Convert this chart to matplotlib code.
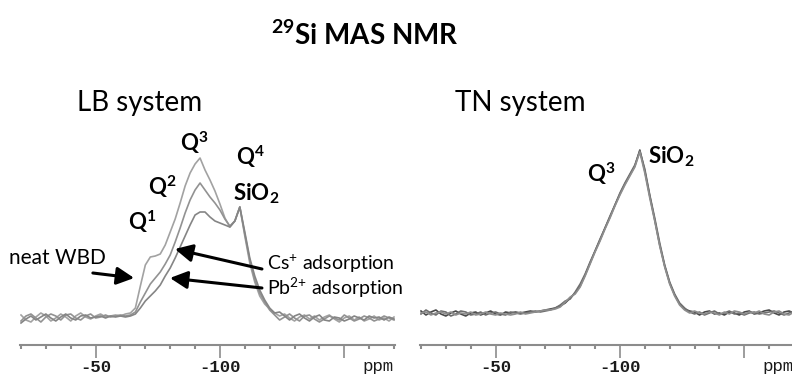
import numpy as np
import matplotlib
matplotlib.use("Agg")
import matplotlib.pyplot as plt
from matplotlib.ticker import MultipleLocator, FixedLocator

plt.rcParams["font.family"] = ["Lato", "DejaVu Sans"]
plt.rcParams["mathtext.fontset"] = "custom"
plt.rcParams["mathtext.rm"] = "Lato"
plt.rcParams["mathtext.bf"] = "Lato:bold"
plt.rcParams["mathtext.it"] = "Lato:italic"
plt.rcParams["axes.unicode_minus"] = False

# chemical shift grid (ppm), shared by all traces
shift = np.arange(-20, -172, -2)

# LB system: neat WBD, after Cs+ adsorption, after Pb2+ adsorption
lb_neat = [3, -2, -4, 1, 5, 2, -3, 0, 4, 1,
           -3, 2, 5, 1, -1, 2, 4, 1, 2, 3,
           2, 4, 5, 10, 32, 53, 61, 62, 64, 73,
           86, 99, 115, 132, 145, 154, 160, 148, 138, 127,
           114, 100, 91, 97, 111, 82, 55, 36, 22, 14,
           9, 5, 2, 4, 0, -3, 1, 3, -1, 2,
           -2, 1, 3, -1, -4, 0, 2, -2, 1, -3,
           -1, 2, -2, 0, -3, 1]
lb_cs = [-3, 2, 4, 0, -4, 1, 4, 2, -2, 3,
         4, 0, -2, 2, 4, 0, 1, 3, 1, 2,
         3, 2, 3, 6, 16, 25, 34, 40, 46, 54,
         63, 76, 90, 105, 118, 128, 135, 128, 121, 115,
         108, 99, 92, 97, 111, 84, 58, 38, 25, 16,
         8, 3, -2, 1, 4, 0, -3, 2, 3, -1,
         -4, -1, 2, 0, -2, 3, 0, -3, -1, 2,
         0, -3, -1, 2, 0, -2]
lb_pb = [-5, -1, 2, -2, 1, 4, 0, -3, 1, 4,
         0, -2, 2, 3, 0, 1, 2, 0, 2, 1,
         2, 1, 2, 4, 10, 17, 22, 27, 33, 42,
         50, 60, 71, 82, 93, 103, 106, 106, 101, 97,
         95, 93, 91, 97, 111, 86, 60, 42, 28, 18,
         10, 5, 6, 2, -2, 2, 4, 0, -3, 1,
         3, -2, -3, 1, 0, -3, -1, 2, 0, -2,
         2, 0, 1, -2, 1, -1]

# TN system: three nearly identical traces
tn_a = [2, -2, 1, 3, -1, -3, 0, 2, -1, -3,
        0, 1, -2, 0, 2, -1, -2, 1, 0, 1,
        0, 1, 2, 1, 2, 3, 4, 5, 7, 10,
        15, 20, 27, 38, 50, 62, 73, 85, 96, 108,
        119, 129, 138, 147, 163, 142, 117, 93, 68, 47,
        30, 18, 9, 4, 2, 1, -2, 1, 2, -1,
        0, -2, 1, 0, -2, 1, 2, -1, 0, 2,
        3, 0, -2, 1, 2, 0]
tn_b = [-1, 3, 0, -2, 2, 1, -3, -1, 2, 1,
        -2, -1, 1, -2, 0, 1, -1, -2, 1, 0,
        -1, 0, 1, 2, 1, 2, 3, 5, 8, 12,
        14, 21, 29, 39, 51, 62, 74, 85, 97, 108,
        120, 130, 139, 148, 162, 144, 118, 95, 70, 48,
        31, 19, 10, 5, 1, -1, 1, -2, 0, 2,
        -1, 0, 2, -1, 0, -2, 0, 1, -1, 0,
        1, 2, 0, -2, 0, 2]
tn_c = [0, 1, -2, 0, 1, -1, 1, -2, 0, -1,
        1, -2, -1, 1, -1, -2, 0, -1, -2, -1,
        1, -1, 0, 1, 2, 3, 3, 4, 6, 11,
        16, 19, 26, 37, 49, 61, 72, 84, 95, 107,
        118, 128, 137, 146, 161, 140, 115, 92, 67, 46,
        29, 17, 8, 3, 0, 2, 0, -1, 1, 0,
        -2, 1, -1, 2, 1, -1, 1, 0, 2, -1,
        -2, 1, 2, -1, -2, 1]

# major ticks; the last one carries the unit label instead of a number
major_ticks = [-50, -100, -150]
major_labels = ["-50", "-100", ""]

lb_series = [(lb_neat, "#a2a2a2"), (lb_cs, "#929292"), (lb_pb, "#858585")]
tn_series = [(tn_a, "#4a4a4a"), (tn_b, "#6e6e6e"), (tn_c, "#8e8e8e")]

W, H = 792, 376
fig = plt.figure(figsize=(W / 100, H / 100), dpi=100)
fig.patch.set_facecolor("white")

ax_lb = fig.add_axes([20 / W, 31 / H, 375 / W, 215 / H])
ax_tn = fig.add_axes([420 / W, 31 / H, 375 / W, 215 / H])

for ax, series, ylim in ((ax_lb, lb_series, (-27, 188)),
                         (ax_tn, tn_series, (-32, 183))):
    for vals, col in series:
        ax.plot(shift, vals, color=col, lw=1.2, solid_joinstyle="round")
    ax.set_xlim(-19.6, -170.4)
    ax.set_ylim(*ylim)
    for side in ("top", "left", "right"):
        ax.spines[side].set_visible(False)
    ax.spines["bottom"].set_color("#8c8c8c")
    ax.spines["bottom"].set_linewidth(1.5)
    ax.set_yticks([])
    ax.xaxis.set_major_locator(FixedLocator(major_ticks))
    ax.set_xticklabels(major_labels)
    ax.xaxis.set_minor_locator(MultipleLocator(10))
    ax.tick_params(axis="x", which="major", length=9, width=1.2,
                   color="#8c8c8c", pad=1.5, labelsize=12.5,
                   labelcolor="#1a1a1a")
    ax.tick_params(axis="x", which="minor", length=3, width=1.5,
                   color="#8c8c8c")
    for lab in ax.get_xticklabels():
        lab.set_fontfamily("Liberation Mono")
        lab.set_fontweight("bold")
    ax.patch.set_alpha(0)

# axis unit labels
for x0 in (362, 762):
    fig.text(x0 / W, 1 - 366 / H, "ppm", family="Liberation Mono",
             fontsize=12.5, color="#1a1a1a", ha="left", va="center")

# titles
fig.text(365 / W, 1 - 35 / H, r"$^{\mathbf{29}}$Si MAS NMR", fontsize=20,
         fontweight="bold", ha="center", va="center")
fig.text(77 / W, 1 - 103 / H, "LB system", fontsize=20, ha="left",
         va="center")
fig.text(455 / W, 1 - 103 / H, "TN system", fontsize=20, ha="left",
         va="center")

# peak assignments, LB system
qkw = dict(fontsize=16, ha="center", va="center")
ax_lb.text(-68.6, 96, r"$\mathbf{Q}^{\mathbf{1}}$", **qkw)
ax_lb.text(-76.7, 131, r"$\mathbf{Q}^{\mathbf{2}}$", **qkw)
ax_lb.text(-89.6, 175, r"$\mathbf{Q}^{\mathbf{3}}$", **qkw)
ax_lb.text(-112.1, 161, r"$\mathbf{Q}^{\mathbf{4}}$", **qkw)
ax_lb.text(-114.5, 124, r"$\mathbf{SiO}_{\mathbf{2}}$", **qkw)

# peak assignments, TN system
ax_tn.text(-92.3, 139, r"$\mathbf{Q}^{\mathbf{3}}$", **qkw)
ax_tn.text(-120.6, 156, r"$\mathbf{SiO}_{\mathbf{2}}$", **qkw)

# sample labels with arrows
arrow = dict(arrowstyle="-|>,head_length=0.75,head_width=0.38",
             lw=2.2, color="black", shrinkA=0, shrinkB=0,
             mutation_scale=14)
ax_lb.text(-34.5, 60, "neat WBD", fontsize=15, ha="center", va="center")
ax_lb.annotate("", xy=(-65.5, 40), xytext=(-48.9, 45), arrowprops=arrow)
ax_lb.text(-118.9, 54, r"Cs$^{{+}}$ adsorption", fontsize=14, ha="left",
           va="center")
ax_lb.annotate("", xy=(-81.9, 69), xytext=(-116.9, 49), arrowprops=arrow)
ax_lb.text(-118.9, 30, r"Pb$^{2{+}}$ adsorption", fontsize=14, ha="left",
           va="center")
ax_lb.annotate("", xy=(-79.9, 40), xytext=(-116.9, 30), arrowprops=arrow)

fig.savefig("out.png", dpi=100, facecolor="white")
